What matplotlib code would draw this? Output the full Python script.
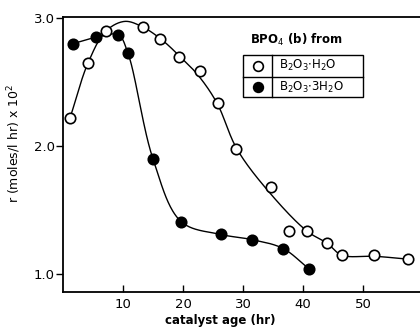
import numpy as np
from matplotlib import pyplot as plt
from matplotlib.patches import Rectangle

# datos
edad_h2o = [1.2, 4.2, 7.2, 13.3, 16.2, 19.3, 22.8, 25.8, 28.8, 34.7, 37.7, 40.7, 44.0, 46.5, 51.8, 57.5]
r_h2o = [2.22, 2.65, 2.90, 2.93, 2.84, 2.70, 2.59, 2.34, 1.98, 1.68, 1.34, 1.34, 1.24, 1.15, 1.15, 1.12]

edad_3h2o = [1.6, 5.5, 9.2, 10.8, 15.0, 19.7, 26.3, 31.5, 36.7, 41.0]
r_3h2o = [2.80, 2.85, 2.87, 2.73, 1.90, 1.41, 1.31, 1.27, 1.20, 1.04]

# trazo a mano de la curva (nodos)
curva_h2o_x = [1.17, 4.17, 7.17, 10.3, 13.33, 16.5, 19.5, 22.5, 25.67, 29.0, 34.5, 40.67, 44.0, 46.5, 51.83, 57.5]
curva_h2o_y = [2.22, 2.65, 2.90, 2.975, 2.93, 2.83, 2.70, 2.555, 2.336, 1.977, 1.633, 1.336, 1.242, 1.148, 1.14, 1.117]

xticks = [10, 20, 30, 40, 50]
yticks = [1.0, 2.0, 3.0]


def catmull_rom(xs, ys, n=40, sx=6.0, sy=128.0, alpha=0.5):
    # centripeta, en escala de pixeles para que no haga ondas
    p = np.column_stack([np.array(xs) * sx, np.array(ys) * sy]).astype(float)
    p = np.vstack([p[0] - (p[1] - p[0]), p, p[-1] + (p[-1] - p[-2])])
    out = []
    for i in range(1, len(p) - 2):
        p0, p1, p2, p3 = p[i - 1], p[i], p[i + 1], p[i + 2]
        t0 = 0.0
        t1 = t0 + np.linalg.norm(p1 - p0) ** alpha
        t2 = t1 + np.linalg.norm(p2 - p1) ** alpha
        t3 = t2 + np.linalg.norm(p3 - p2) ** alpha
        t = np.linspace(t1, t2, n)[:, None]
        a1 = (t1 - t) / (t1 - t0) * p0 + (t - t0) / (t1 - t0) * p1
        a2 = (t2 - t) / (t2 - t1) * p1 + (t - t1) / (t2 - t1) * p2
        a3 = (t3 - t) / (t3 - t2) * p2 + (t - t2) / (t3 - t2) * p3
        b1 = (t2 - t) / (t2 - t0) * a1 + (t - t0) / (t2 - t0) * a2
        b2 = (t3 - t) / (t3 - t1) * a2 + (t - t1) / (t3 - t1) * a3
        c = (t2 - t) / (t2 - t1) * b1 + (t - t1) / (t2 - t1) * b2
        out.append(c)
    out = np.vstack(out)
    return out[:, 0] / sx, out[:, 1] / sy


fig = plt.figure(figsize=(4.2, 3.3), dpi=100)
ax = fig.add_axes([0.15, 0.115, 0.85, 0.833])

cx, cy = catmull_rom(curva_h2o_x, curva_h2o_y)
ax.plot(cx, cy, color='k', lw=1.0, zorder=2)
fx, fy = catmull_rom(edad_3h2o, r_3h2o)
ax.plot(fx, fy, color='k', lw=1.0, zorder=2)

ax.plot(edad_h2o, r_h2o, 'o', ms=7.5, mfc='white', mec='k', mew=1.2, zorder=3)
ax.plot(edad_3h2o, r_3h2o, 'o', ms=7.5, mfc='k', mec='k', mew=1.2, zorder=3)

ax.set_xlim(0, 59.5)
ax.set_ylim(0.86, 3.008)
ax.set_xticks(xticks)
ax.set_yticks(yticks)
ax.set_yticklabels(['1.0', '2.0', '3.0'])
ax.tick_params(axis='x', direction='in', length=5, width=1, labelsize=9.5, pad=4)
ax.tick_params(axis='y', direction='out', length=5, width=1, labelsize=9.5, pad=1)
ax.spines['right'].set_visible(False)
for s in ['left', 'bottom', 'top']:
    ax.spines[s].set_linewidth(1.3)

ax.set_xlabel('catalyst age (hr)', fontsize=8.5, fontweight='bold')
ax.xaxis.set_label_coords(0.44, -0.08)
ax.set_ylabel(r'r (moles/l hr) x 10$^2$', fontsize=9)
ax.yaxis.set_label_coords(-0.112, 0.54)

# leyenda en forma de tabla
ax.text(0.524, 0.916, r'BPO$_4$ (b) from', transform=ax.transAxes, fontsize=8.5,
        fontweight='bold', va='center', ha='left')
ax.add_patch(Rectangle((0.504, 0.709), 0.336, 0.153, transform=ax.transAxes,
                       fill=False, lw=1.0, color='k'))
ax.plot([0.585, 0.585], [0.709, 0.862], transform=ax.transAxes, color='k', lw=1.0)
ax.plot([0.504, 0.840], [0.782, 0.782], transform=ax.transAxes, color='k', lw=1.0)
ax.plot([0.545], [0.823], 'o', ms=7, mfc='white', mec='k', mew=1.2, transform=ax.transAxes)
ax.plot([0.545], [0.746], 'o', ms=7, mfc='k', mec='k', mew=1.2, transform=ax.transAxes)
ax.text(0.605, 0.823, r'B$_2$O$_3$$\cdot$H$_2$O', transform=ax.transAxes, fontsize=8.5, va='center')
ax.text(0.605, 0.746, r'B$_2$O$_3$$\cdot$3H$_2$O', transform=ax.transAxes, fontsize=8.5, va='center')

fig.savefig('out.png', dpi=100)
